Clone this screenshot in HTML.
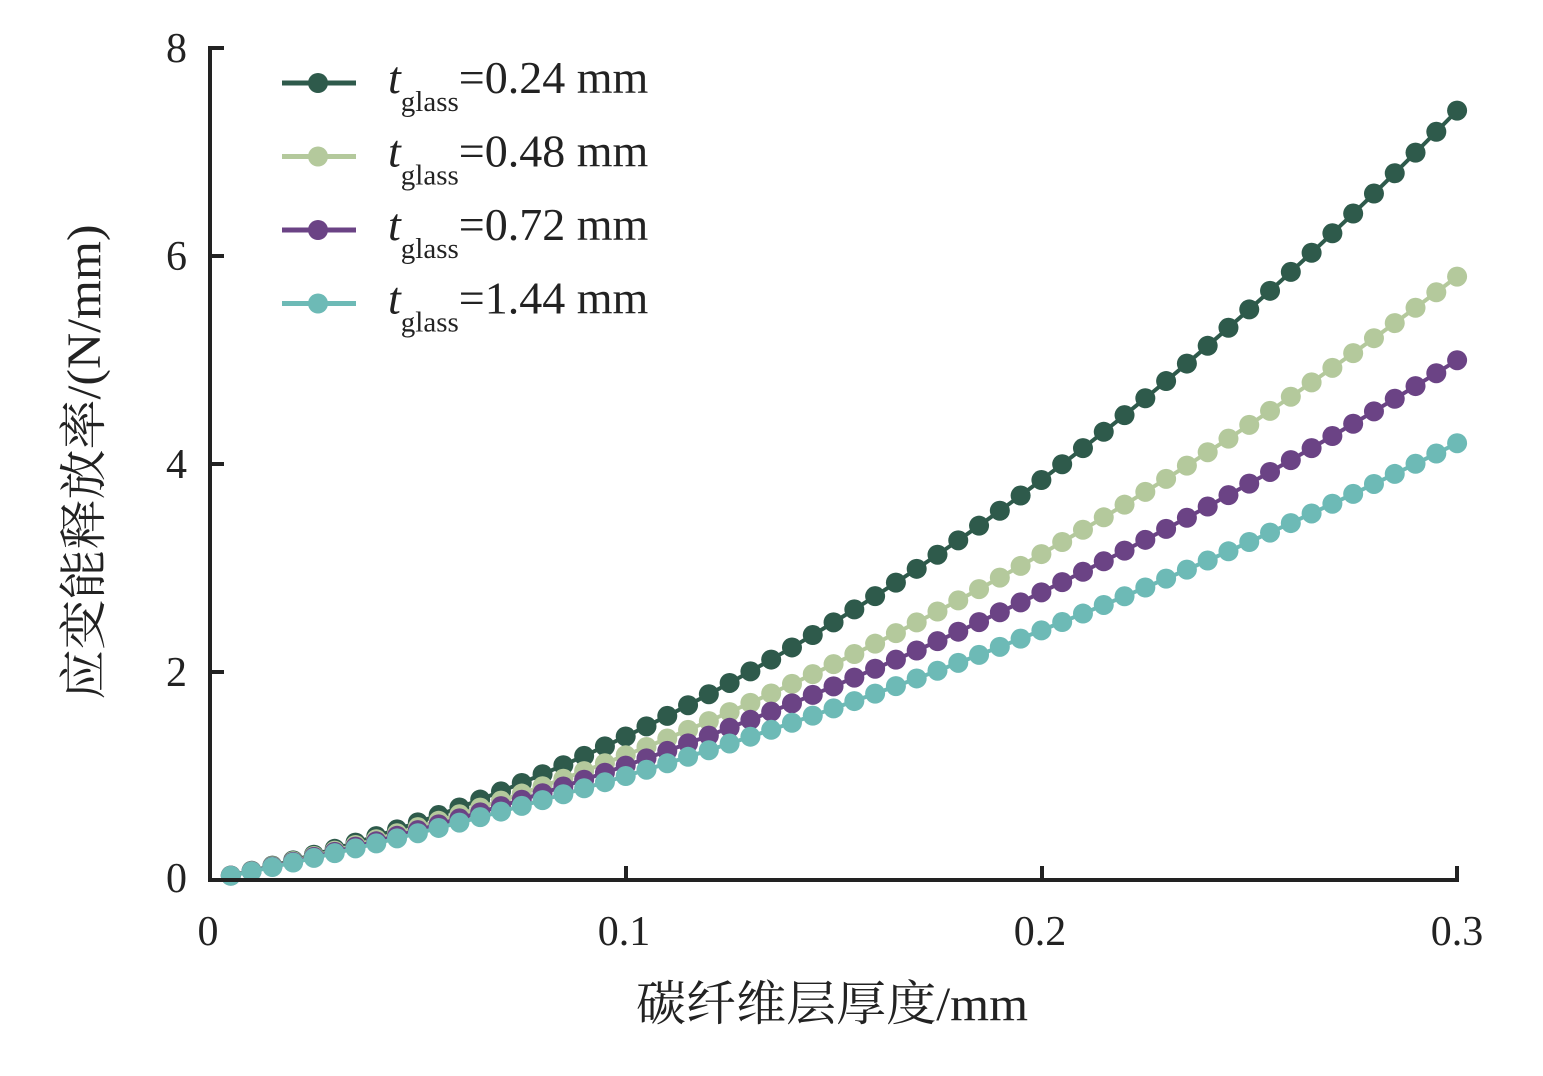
<!DOCTYPE html>
<html><head><meta charset="utf-8"><style>
html,body{margin:0;padding:0;background:#fff;}
svg{display:block;}
text{font-family:"Liberation Serif","Noto Serif CJK SC",serif;fill:#222;}
</style></head><body>
<svg id="s" width="1543" height="1076" viewBox="0 0 1543 1076" xmlns="http://www.w3.org/2000/svg">
<g id="data"></g>
<g stroke="#222" stroke-width="4" fill="none">
<line x1="210" y1="46" x2="210" y2="882"/>
<line x1="208" y1="880" x2="1459" y2="880"/>
<line x1="626" y1="880" x2="626" y2="866"/>
<line x1="1042" y1="880" x2="1042" y2="866"/>
<line x1="1457" y1="880" x2="1457" y2="866"/>
<line x1="210" y1="48" x2="224" y2="48"/>
<line x1="210" y1="256" x2="224" y2="256"/>
<line x1="210" y1="464" x2="224" y2="464"/>
<line x1="210" y1="672" x2="224" y2="672"/>
</g>
<g font-size="42" text-anchor="end">
<text x="187" y="62">8</text>
<text x="187" y="270">6</text>
<text x="187" y="478">4</text>
<text x="187" y="686">2</text>
<text x="187" y="892">0</text>
</g>
<g font-size="42" text-anchor="middle">
<text x="208" y="945">0</text>
<text x="624" y="945">0.1</text>
<text x="1040" y="945">0.2</text>
<text x="1457" y="945">0.3</text>
</g>
<text x="832" y="1020" font-size="48" text-anchor="middle" textLength="392" lengthAdjust="spacingAndGlyphs">碳纤维层厚度/mm</text>
<text transform="translate(100,462) rotate(-90)" font-size="48" text-anchor="middle" textLength="475" lengthAdjust="spacingAndGlyphs">应变能释放率/(N/mm)</text>
<g id="leg"></g>
</svg>
<script>
var series=[["#2e5a4b",54.3,8.37],["#b4c99c",36.7,8.33],["#6b4385",28.3,8.17],["#6dbab6",20,8.0]];
var ns="http://www.w3.org/2000/svg",g=document.getElementById("data"),lg=document.getElementById("leg");
function el(p,t,a){var e=document.createElementNS(ns,t);for(var k in a)e.setAttribute(k,a[k]);p.appendChild(e);return e;}
for(var i=0;i<4;i++){var s=series[i],pts=[];
for(var j=1;j<=60;j++){var x=j*0.005,y=s[1]*x*x+s[2]*x;pts.push([210+x*4157,880-y*104]);}
el(g,"polyline",{points:pts.map(function(p){return p.join(",")}).join(" "),fill:"none",stroke:s[0],"stroke-width":4});
pts.forEach(function(p){el(g,"circle",{cx:p[0],cy:p[1],r:10,fill:s[0]});});
var ly=83+i*73.5;
el(lg,"line",{x1:282,y1:ly,x2:356,y2:ly,stroke:s[0],"stroke-width":5});
el(lg,"circle",{cx:318,cy:ly,r:10,fill:s[0]});
}
var labs=["=0.24 mm","=0.48 mm","=0.72 mm","=1.44 mm"];
for(var i=0;i<4;i++){var ly=83+i*73.5;
var t=el(lg,"text",{x:388,y:ly+10,"font-size":46});
var a=el(t,"tspan",{"font-style":"italic"});a.textContent="t";
var b=el(t,"tspan",{"font-size":29,dy:18});b.textContent="glass";
var c=el(t,"tspan",{dy:-18});c.textContent=labs[i];}
</script>
</body></html>
